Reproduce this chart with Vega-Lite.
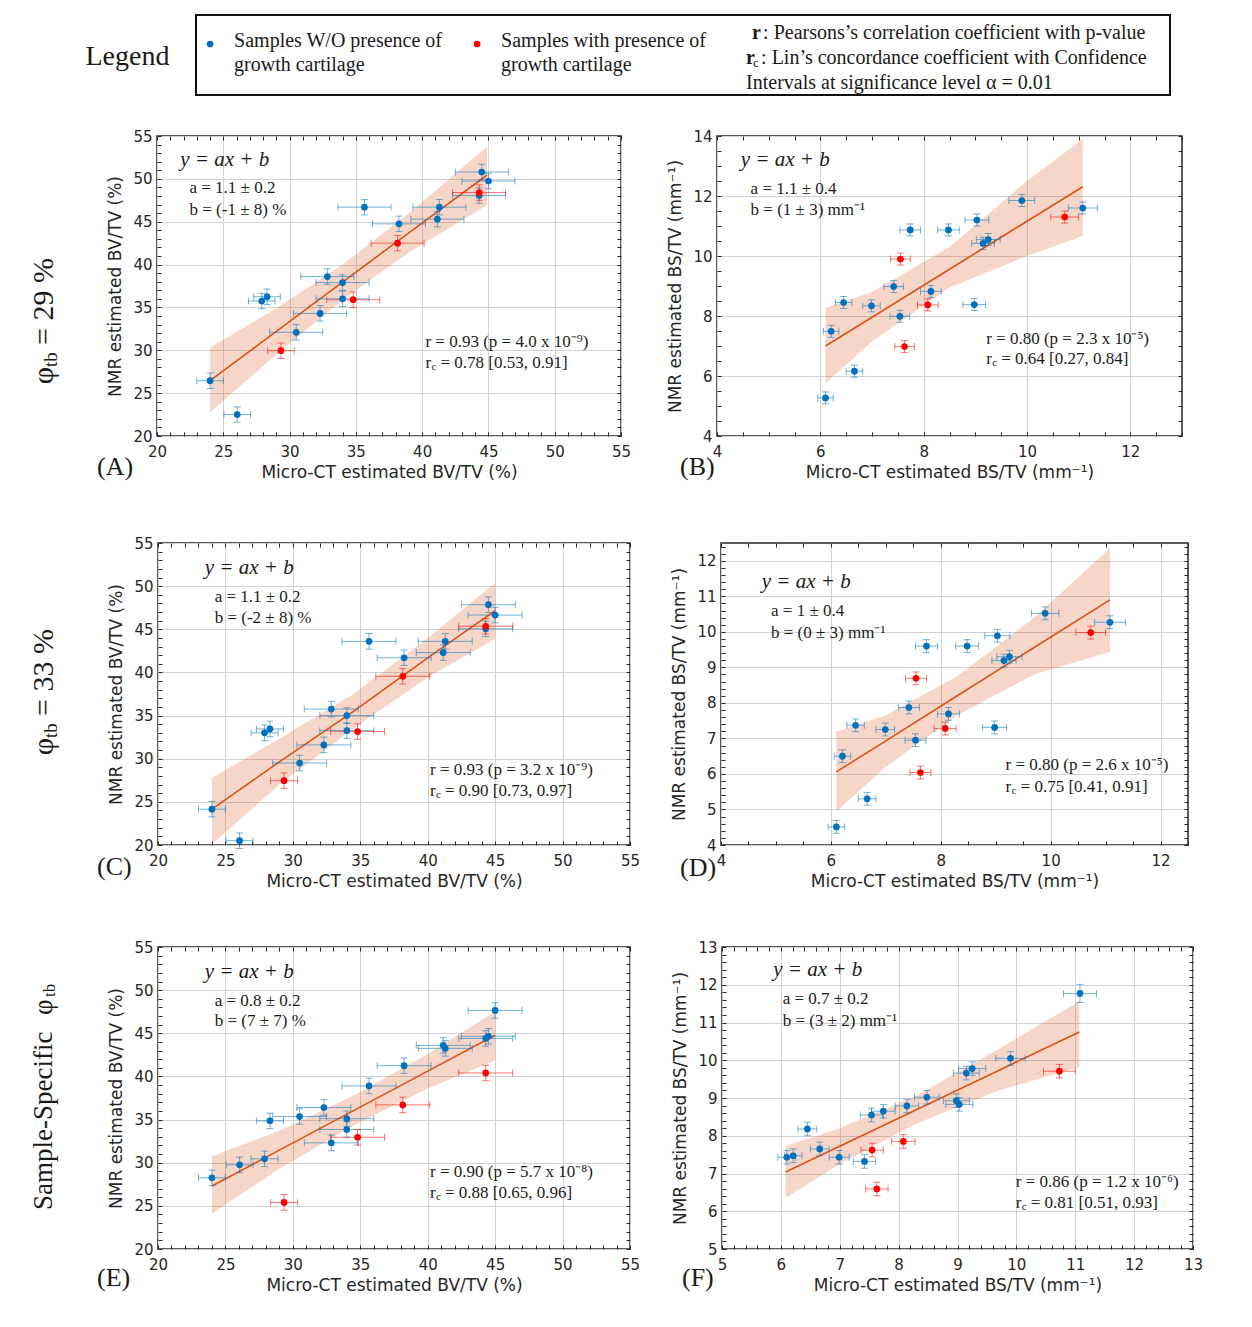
{
  "$schema": "https://vega.github.io/schema/vega-lite/v6.json",
  "padding": {"left": 15, "top": 14, "right": 5, "bottom": 5},
  "background": "white",
  "bounds": "full",
  "spacing": 19,
  "config": {
    "view": {"stroke": "#262626", "strokeWidth": 1.5},
    "axis": {"labelFont": "DejaVu Sans", "labelFontSize": 15, "labelColor": "#262626", "titleFont": "DejaVu Sans", "titleFontSize": 17, "titleFontWeight": "normal", "titleColor": "#262626", "tickColor": "#262626", "tickSize": -4, "domain": false, "gridColor": "#d2d2d2", "gridWidth": 1, "labelFlush": false, "labelOverlap": false, "labelBound": false},
    "axisX": {"labelPadding": 12, "titlePadding": 5},
    "axisY": {"labelPadding": 9, "titlePadding": 8},
    "text": {"font": "Liberation Serif", "fontSize": 17, "color": "#1a1a1a", "align": "left", "baseline": "middle"},
    "circle": {"size": 45, "opacity": 1},
    "title": {"font": "Liberation Serif", "fontSize": 26, "fontWeight": "normal", "color": "#1a1a1a"}
  },
  "datasets": {
    "ptsA": [
      {"x":44.5,"y":50.8,"xe":2,"ye":0.9,"g":"without"},
      {"x":45.0,"y":49.75,"xe":2,"ye":0.9,"g":"without"},
      {"x":44.3,"y":48.05,"xe":2,"ye":0.9,"g":"without"},
      {"x":35.65,"y":46.7,"xe":2,"ye":0.9,"g":"without"},
      {"x":41.3,"y":46.7,"xe":2,"ye":0.9,"g":"without"},
      {"x":41.15,"y":45.3,"xe":2,"ye":0.9,"g":"without"},
      {"x":38.25,"y":44.75,"xe":2,"ye":0.9,"g":"without"},
      {"x":32.85,"y":38.6,"xe":2,"ye":0.9,"g":"without"},
      {"x":34.0,"y":37.9,"xe":2,"ye":0.9,"g":"without"},
      {"x":28.3,"y":36.25,"xe":1,"ye":0.9,"g":"without"},
      {"x":27.9,"y":35.75,"xe":1,"ye":0.9,"g":"without"},
      {"x":34.0,"y":36.0,"xe":2,"ye":0.9,"g":"without"},
      {"x":32.3,"y":34.3,"xe":2,"ye":0.9,"g":"without"},
      {"x":30.5,"y":32.1,"xe":2,"ye":0.9,"g":"without"},
      {"x":24.0,"y":26.45,"xe":1,"ye":0.9,"g":"without"},
      {"x":26.05,"y":22.5,"xe":1,"ye":0.9,"g":"without"},
      {"x":44.3,"y":48.4,"xe":2,"ye":0.9,"g":"with"},
      {"x":38.15,"y":42.5,"xe":2,"ye":0.9,"g":"with"},
      {"x":34.8,"y":35.9,"xe":2,"ye":0.9,"g":"with"},
      {"x":29.35,"y":29.95,"xe":1,"ye":0.9,"g":"with"}
    ],
    "ptsC": [
      {"x":44.5,"y":47.85,"xe":2,"ye":0.9,"g":"without"},
      {"x":45.0,"y":46.65,"xe":2,"ye":0.9,"g":"without"},
      {"x":44.3,"y":45.05,"xe":2,"ye":0.9,"g":"without"},
      {"x":35.65,"y":43.6,"xe":2,"ye":0.9,"g":"without"},
      {"x":41.3,"y":43.6,"xe":2,"ye":0.9,"g":"without"},
      {"x":41.15,"y":42.3,"xe":2,"ye":0.9,"g":"without"},
      {"x":38.25,"y":41.7,"xe":2,"ye":0.9,"g":"without"},
      {"x":32.85,"y":35.75,"xe":2,"ye":0.9,"g":"without"},
      {"x":34.0,"y":35.0,"xe":2,"ye":0.9,"g":"without"},
      {"x":28.3,"y":33.45,"xe":1,"ye":0.9,"g":"without"},
      {"x":27.9,"y":33.0,"xe":1,"ye":0.9,"g":"without"},
      {"x":34.0,"y":33.25,"xe":2,"ye":0.9,"g":"without"},
      {"x":32.3,"y":31.6,"xe":2,"ye":0.9,"g":"without"},
      {"x":30.5,"y":29.5,"xe":2,"ye":0.9,"g":"without"},
      {"x":24.0,"y":24.15,"xe":1,"ye":0.9,"g":"without"},
      {"x":26.05,"y":20.5,"xe":1,"ye":0.9,"g":"without"},
      {"x":44.3,"y":45.35,"xe":2,"ye":0.9,"g":"with"},
      {"x":38.15,"y":39.55,"xe":2,"ye":0.9,"g":"with"},
      {"x":34.8,"y":33.15,"xe":2,"ye":0.9,"g":"with"},
      {"x":29.35,"y":27.45,"xe":1,"ye":0.9,"g":"with"}
    ],
    "ptsE": [
      {"x":44.5,"y":44.65,"xe":2,"ye":0.9,"g":"without"},
      {"x":45.0,"y":47.65,"xe":2,"ye":0.9,"g":"without"},
      {"x":44.3,"y":44.4,"xe":2,"ye":0.9,"g":"without"},
      {"x":35.65,"y":38.9,"xe":2,"ye":0.9,"g":"without"},
      {"x":41.3,"y":43.25,"xe":2,"ye":0.9,"g":"without"},
      {"x":41.15,"y":43.6,"xe":2,"ye":0.9,"g":"without"},
      {"x":38.25,"y":41.25,"xe":2,"ye":0.9,"g":"without"},
      {"x":32.85,"y":32.3,"xe":2,"ye":0.9,"g":"without"},
      {"x":34.0,"y":35.1,"xe":2,"ye":0.9,"g":"without"},
      {"x":28.3,"y":34.85,"xe":1,"ye":0.9,"g":"without"},
      {"x":27.9,"y":30.45,"xe":1,"ye":0.9,"g":"without"},
      {"x":34.0,"y":33.85,"xe":2,"ye":0.9,"g":"without"},
      {"x":32.3,"y":36.4,"xe":2,"ye":0.9,"g":"without"},
      {"x":30.5,"y":35.35,"xe":2,"ye":0.9,"g":"without"},
      {"x":24.0,"y":28.25,"xe":1,"ye":0.9,"g":"without"},
      {"x":26.05,"y":29.75,"xe":1,"ye":0.9,"g":"without"},
      {"x":44.3,"y":40.4,"xe":2,"ye":0.9,"g":"with"},
      {"x":38.15,"y":36.7,"xe":2,"ye":0.9,"g":"with"},
      {"x":34.8,"y":32.95,"xe":2,"ye":0.9,"g":"with"},
      {"x":29.35,"y":25.4,"xe":1,"ye":0.9,"g":"with"}
    ],
    "ptsB": [
      {"x":9.9,"y":11.85,"xe":0.25,"ye":0.2,"g":"without"},
      {"x":11.08,"y":11.6,"xe":0.28,"ye":0.2,"g":"without"},
      {"x":9.03,"y":11.2,"xe":0.23,"ye":0.2,"g":"without"},
      {"x":7.74,"y":10.87,"xe":0.2,"ye":0.2,"g":"without"},
      {"x":8.48,"y":10.87,"xe":0.21,"ye":0.2,"g":"without"},
      {"x":9.25,"y":10.55,"xe":0.23,"ye":0.2,"g":"without"},
      {"x":9.15,"y":10.42,"xe":0.22,"ye":0.2,"g":"without"},
      {"x":7.42,"y":8.98,"xe":0.19,"ye":0.2,"g":"without"},
      {"x":8.14,"y":8.82,"xe":0.2,"ye":0.2,"g":"without"},
      {"x":6.45,"y":8.45,"xe":0.16,"ye":0.2,"g":"without"},
      {"x":6.99,"y":8.34,"xe":0.17,"ye":0.2,"g":"without"},
      {"x":8.98,"y":8.38,"xe":0.22,"ye":0.2,"g":"without"},
      {"x":7.54,"y":7.99,"xe":0.19,"ye":0.2,"g":"without"},
      {"x":6.21,"y":7.49,"xe":0.15,"ye":0.2,"g":"without"},
      {"x":6.66,"y":6.16,"xe":0.16,"ye":0.2,"g":"without"},
      {"x":6.1,"y":5.27,"xe":0.15,"ye":0.2,"g":"without"},
      {"x":10.73,"y":11.3,"xe":0.27,"ye":0.2,"g":"with"},
      {"x":7.55,"y":9.9,"xe":0.19,"ye":0.2,"g":"with"},
      {"x":8.08,"y":8.37,"xe":0.2,"ye":0.2,"g":"with"},
      {"x":7.63,"y":6.98,"xe":0.19,"ye":0.2,"g":"with"}
    ],
    "ptsD": [
      {"x":9.9,"y":10.52,"xe":0.25,"ye":0.18,"g":"without"},
      {"x":11.08,"y":10.27,"xe":0.28,"ye":0.18,"g":"without"},
      {"x":9.03,"y":9.89,"xe":0.23,"ye":0.18,"g":"without"},
      {"x":7.74,"y":9.6,"xe":0.2,"ye":0.18,"g":"without"},
      {"x":8.48,"y":9.6,"xe":0.21,"ye":0.18,"g":"without"},
      {"x":9.25,"y":9.3,"xe":0.23,"ye":0.18,"g":"without"},
      {"x":9.15,"y":9.19,"xe":0.22,"ye":0.18,"g":"without"},
      {"x":7.42,"y":7.87,"xe":0.19,"ye":0.18,"g":"without"},
      {"x":8.14,"y":7.69,"xe":0.2,"ye":0.18,"g":"without"},
      {"x":6.45,"y":7.37,"xe":0.16,"ye":0.18,"g":"without"},
      {"x":6.99,"y":7.25,"xe":0.17,"ye":0.18,"g":"without"},
      {"x":8.98,"y":7.31,"xe":0.22,"ye":0.18,"g":"without"},
      {"x":7.54,"y":6.95,"xe":0.19,"ye":0.18,"g":"without"},
      {"x":6.21,"y":6.5,"xe":0.15,"ye":0.18,"g":"without"},
      {"x":6.66,"y":5.3,"xe":0.16,"ye":0.18,"g":"without"},
      {"x":6.1,"y":4.51,"xe":0.15,"ye":0.18,"g":"without"},
      {"x":10.73,"y":9.98,"xe":0.27,"ye":0.18,"g":"with"},
      {"x":7.55,"y":8.69,"xe":0.19,"ye":0.18,"g":"with"},
      {"x":8.08,"y":7.28,"xe":0.2,"ye":0.18,"g":"with"},
      {"x":7.63,"y":6.04,"xe":0.19,"ye":0.18,"g":"with"}
    ],
    "ptsF": [
      {"x":9.9,"y":10.05,"xe":0.25,"ye":0.18,"g":"without"},
      {"x":11.08,"y":11.77,"xe":0.28,"ye":0.24,"g":"without"},
      {"x":9.03,"y":8.83,"xe":0.23,"ye":0.18,"g":"without"},
      {"x":7.74,"y":8.65,"xe":0.2,"ye":0.18,"g":"without"},
      {"x":8.48,"y":9.02,"xe":0.21,"ye":0.18,"g":"without"},
      {"x":9.25,"y":9.78,"xe":0.23,"ye":0.18,"g":"without"},
      {"x":9.15,"y":9.66,"xe":0.22,"ye":0.18,"g":"without"},
      {"x":7.42,"y":7.32,"xe":0.19,"ye":0.18,"g":"without"},
      {"x":8.14,"y":8.79,"xe":0.2,"ye":0.18,"g":"without"},
      {"x":6.45,"y":8.18,"xe":0.16,"ye":0.18,"g":"without"},
      {"x":6.99,"y":7.43,"xe":0.17,"ye":0.18,"g":"without"},
      {"x":8.98,"y":8.93,"xe":0.22,"ye":0.18,"g":"without"},
      {"x":7.54,"y":8.55,"xe":0.19,"ye":0.18,"g":"without"},
      {"x":6.21,"y":7.47,"xe":0.15,"ye":0.18,"g":"without"},
      {"x":6.66,"y":7.65,"xe":0.16,"ye":0.18,"g":"without"},
      {"x":6.1,"y":7.43,"xe":0.15,"ye":0.18,"g":"without"},
      {"x":10.73,"y":9.71,"xe":0.27,"ye":0.18,"g":"with"},
      {"x":7.55,"y":7.62,"xe":0.19,"ye":0.18,"g":"with"},
      {"x":8.08,"y":7.85,"xe":0.2,"ye":0.18,"g":"with"},
      {"x":7.63,"y":6.59,"xe":0.19,"ye":0.18,"g":"with"}
    ],
    "bandA": [
      {"x":24,"lo":22.75,"hi":30.3,"fit":26.45},
      {"x":29,"lo":29.5,"hi":34.9,"fit":32.2},
      {"x":34,"lo":35.9,"hi":40.0,"fit":37.95},
      {"x":39,"lo":41.4,"hi":46.0,"fit":43.7},
      {"x":44.9,"lo":46.95,"hi":53.75,"fit":50.45}
    ],
    "bandB": [
      {"x":6.1,"lo":5.76,"hi":8.27,"fit":7.0},
      {"x":7.0,"lo":7.15,"hi":8.8,"fit":7.96},
      {"x":8.5,"lo":8.95,"hi":10.3,"fit":9.56},
      {"x":10.0,"lo":10.0,"hi":12.5,"fit":11.16},
      {"x":11.08,"lo":10.67,"hi":13.9,"fit":12.31}
    ],
    "bandC": [
      {"x":24,"lo":20.1,"hi":27.8,"fit":24.16},
      {"x":29,"lo":27.0,"hi":32.3,"fit":29.64},
      {"x":34.5,"lo":33.5,"hi":37.5,"fit":35.48},
      {"x":40,"lo":39.4,"hi":44.0,"fit":41.68},
      {"x":45,"lo":43.9,"hi":50.4,"fit":47.16}
    ],
    "bandD": [
      {"x":6.1,"lo":4.94,"hi":7.19,"fit":6.06},
      {"x":7.0,"lo":6.2,"hi":7.65,"fit":6.93},
      {"x":8.3,"lo":7.65,"hi":8.75,"fit":8.2},
      {"x":9.7,"lo":8.8,"hi":10.4,"fit":9.56},
      {"x":11.08,"lo":9.44,"hi":12.35,"fit":10.9}
    ],
    "bandE": [
      {"x":24,"lo":24.08,"hi":30.75,"fit":27.3},
      {"x":29,"lo":29.3,"hi":33.7,"fit":31.46},
      {"x":34.5,"lo":34.3,"hi":37.8,"fit":36.04},
      {"x":40,"lo":38.6,"hi":42.6,"fit":40.61},
      {"x":45,"lo":41.86,"hi":47.53,"fit":44.77}
    ],
    "bandF": [
      {"x":6.08,"lo":6.35,"hi":7.73,"fit":7.04},
      {"x":7.0,"lo":7.25,"hi":8.2,"fit":7.72},
      {"x":8.3,"lo":8.32,"hi":9.06,"fit":8.69},
      {"x":9.7,"lo":9.2,"hi":10.3,"fit":9.73},
      {"x":11.07,"lo":9.82,"hi":11.56,"fit":10.75}
    ],
    "legendItems": [
      {"g":"without","label":"Samples W/O presence of\ngrowth cartilage"},
      {"g":"with","label":"Samples with presence of\ngrowth cartilage"}
    ]
  },
  "vconcat": [
    {
      "bounds": "flush",
      "spacing": 0,
      "hconcat": [
        {
          "width": 181, "height": 94, "view": {"stroke": null},
          "data": {"values": [{}]},
          "mark": {"type": "text", "fontSize": 28, "align": "center", "dx": 22, "dy": -5},
          "encoding": {"text": {"value": "Legend"}}
        },
        {
          "width": 974, "height": 80,
          "view": {"stroke": "#111", "strokeWidth": 2},
          "data": {"name": "legendItems"},
          "layer": [
            {
              "mark": {"type": "circle", "yOffset": -11},
              "encoding": {
                "x": {"field": "g", "type": "nominal", "scale": {"type": "point", "domain": ["without", "with", "stats"], "padding": 0.824, "align": 0.032}, "axis": null},
                "color": {"field": "g", "type": "nominal", "scale": {"domain": ["without", "with"], "range": ["#0072BD", "#FF0000"]}, "legend": null}
              }
            },
            {
              "mark": {"type": "text", "fontSize": 20, "dx": 24, "dy": -14, "lineBreak": "\n", "lineHeight": 24},
              "encoding": {"x": {"field": "g", "type": "nominal", "axis": null}, "text": {"field": "label"}}
            },
            {"data": {"values": [{"g": "stats"}]}, "mark": {"type": "text", "fontSize": 20, "fontWeight": "bold", "dx": 8, "dy": -22}, "encoding": {"x": {"field": "g", "type": "nominal", "axis": null}, "text": {"value": "r"}}},
            {"data": {"values": [{"g": "stats"}]}, "mark": {"type": "text", "fontSize": 20, "dx": 19, "dy": -22}, "encoding": {"x": {"field": "g", "type": "nominal", "axis": null}, "text": {"value": ": Pearsons’s correlation coefficient with p-value"}}},
            {"data": {"values": [{"g": "stats"}]}, "mark": {"type": "text", "fontSize": 20, "fontWeight": "bold", "dx": 2, "dy": 3}, "encoding": {"x": {"field": "g", "type": "nominal", "axis": null}, "text": {"value": "r"}}},
            {"data": {"values": [{"g": "stats"}]}, "mark": {"type": "text", "fontSize": 13, "dx": 9, "dy": 8}, "encoding": {"x": {"field": "g", "type": "nominal", "axis": null}, "text": {"value": "c"}}},
            {"data": {"values": [{"g": "stats"}]}, "mark": {"type": "text", "fontSize": 20, "dx": 17, "dy": 3}, "encoding": {"x": {"field": "g", "type": "nominal", "axis": null}, "text": {"value": ": Lin’s concordance coefficient with Confidence"}}},
            {"data": {"values": [{"g": "stats"}]}, "mark": {"type": "text", "fontSize": 20, "dx": 2, "dy": 28}, "encoding": {"x": {"field": "g", "type": "nominal", "axis": null}, "text": {"value": "Intervals at significance level α = 0.01"}}}
          ]
        }
      ]
    },
    {
      "bounds": "flush",
      "spacing": 96,
      "hconcat": [
        {
          "width": 46, "height": 380, "view": {"stroke": null},
          "data": {"values": [{}]},
          "layer": [
            {"mark": {"type": "text", "angle": 270, "fontSize": 30, "align": "right", "dx": -41, "dy": 6}, "encoding": {"text": {"value": "φ"}}},
            {"mark": {"type": "text", "angle": 270, "fontSize": 19, "align": "left", "dx": -41, "dy": 13}, "encoding": {"text": {"value": "tb"}}},
            {"mark": {"type": "text", "angle": 270, "fontSize": 30, "align": "left", "dx": -19, "dy": 6}, "encoding": {"text": {"value": "= 29 %"}}}
          ]
        },
        {
          "width": 464, "height": 300,
          "title": {"text": "(A)", "orient": "bottom", "anchor": "start", "frame": "group", "dx": -60, "dy": -30},
          "resolve": {"axis": {"x": "independent", "y": "independent"}},
          "layer": [
            {
              "layer": [
                {
                  "data": {"name": "bandA"},
                  "mark": {"type": "area", "color": "#D95319", "opacity": 0.24, "clip": true},
                  "encoding": {
                    "x": {"field": "x", "type": "quantitative", "title": "Micro-CT estimated BV/TV (%)", "scale": {"domain": [20, 55], "nice": false, "zero": false},
                      "axis": {"values": [20,21,22,23,24,25,26,27,28,29,30,31,32,33,34,35,36,37,38,39,40,41,42,43,44,45,46,47,48,49,50,51,52,53,54,55], "tickCount": 200, "labelOverlap": false, "labelExpr": "datum.value % 5 === 0 ? '' + datum.value : ''", "gridOpacity": {"condition": {"test": "datum.value % 5 === 0", "value": 1}, "value": 0}}},
                    "y": {"field": "lo", "type": "quantitative", "title": "NMR estimated BV/TV (%)", "scale": {"domain": [20, 55], "nice": false, "zero": false},
                      "axis": {"values": [20,21,22,23,24,25,26,27,28,29,30,31,32,33,34,35,36,37,38,39,40,41,42,43,44,45,46,47,48,49,50,51,52,53,54,55], "tickCount": 200, "labelOverlap": false, "labelExpr": "datum.value % 5 === 0 ? '' + datum.value : ''", "gridOpacity": {"condition": {"test": "datum.value % 5 === 0", "value": 1}, "value": 0}}},
                    "y2": {"field": "hi"}
                  }
                },
                {"data": {"name": "bandA"}, "mark": {"type": "line", "color": "#D95319", "strokeWidth": 1.6}, "encoding": {"x": {"field": "x", "type": "quantitative", "title": "Micro-CT estimated BV/TV (%)"}, "y": {"field": "fit", "type": "quantitative", "title": "NMR estimated BV/TV (%)"}}},
                {"data": {"name": "ptsA"}, "mark": {"type": "errorbar", "ticks": true, "size": 7, "thickness": 1, "opacity": 0.55}, "encoding": {"x": {"field": "x", "type": "quantitative", "title": "Micro-CT estimated BV/TV (%)"}, "xError": {"field": "xe"}, "y": {"field": "y", "type": "quantitative", "title": "NMR estimated BV/TV (%)"}, "color": {"field": "g", "type": "nominal", "legend": null}}},
                {"data": {"name": "ptsA"}, "mark": {"type": "errorbar", "ticks": true, "size": 7, "thickness": 1, "opacity": 0.55}, "encoding": {"x": {"field": "x", "type": "quantitative", "title": "Micro-CT estimated BV/TV (%)"}, "y": {"field": "y", "type": "quantitative", "title": "NMR estimated BV/TV (%)"}, "yError": {"field": "ye"}, "color": {"field": "g", "type": "nominal", "legend": null}}},
                {"data": {"name": "ptsA"}, "mark": {"type": "circle"}, "encoding": {"x": {"field": "x", "type": "quantitative", "title": "Micro-CT estimated BV/TV (%)"}, "y": {"field": "y", "type": "quantitative", "title": "NMR estimated BV/TV (%)"}, "color": {"field": "g", "type": "nominal", "legend": null}}},
                {"data": {"values": [{}]}, "mark": {"type": "text", "fontStyle": "italic", "fontSize": 21}, "encoding": {"x": {"datum": 21.75, "type": "quantitative"}, "y": {"datum": 52.2, "type": "quantitative"}, "text": {"value": "y = ax + b"}}},
                {"data": {"values": [{}]}, "mark": {"type": "text"}, "encoding": {"x": {"datum": 22.45, "type": "quantitative"}, "y": {"datum": 48.9, "type": "quantitative"}, "text": {"value": "a = 1.1 ± 0.2"}}},
                {"data": {"values": [{}]}, "mark": {"type": "text"}, "encoding": {"x": {"datum": 22.45, "type": "quantitative"}, "y": {"datum": 46.37, "type": "quantitative"}, "text": {"value": "b = (-1 ± 8) %"}}},
                {"data": {"values": [{}]}, "mark": {"type": "text"}, "encoding": {"x": {"datum": 40.25, "type": "quantitative"}, "y": {"datum": 30.92, "type": "quantitative"}, "text": {"value": "r = 0.93 (p = 4.0 x 10⁻⁹)"}}},
                {"data": {"values": [{}]}, "mark": {"type": "text"}, "encoding": {"x": {"datum": 40.25, "type": "quantitative"}, "y": {"datum": 28.47, "type": "quantitative"}, "text": {"value": "r"}}},
                {"data": {"values": [{}]}, "mark": {"type": "text", "fontSize": 11, "dx": 6, "dy": 4}, "encoding": {"x": {"datum": 40.25, "type": "quantitative"}, "y": {"datum": 28.47, "type": "quantitative"}, "text": {"value": "c"}}},
                {"data": {"values": [{}]}, "mark": {"type": "text", "dx": 15}, "encoding": {"x": {"datum": 40.25, "type": "quantitative"}, "y": {"datum": 28.47, "type": "quantitative"}, "text": {"value": "= 0.78 [0.53, 0.91]"}}}
              ]
            },
            {
              "data": {"name": "ptsA"},
              "mark": {"type": "point", "opacity": 0},
              "encoding": {
                "x": {"field": "x", "type": "quantitative", "axis": {"orient": "top", "values": [20,21,22,23,24,25,26,27,28,29,30,31,32,33,34,35,36,37,38,39,40,41,42,43,44,45,46,47,48,49,50,51,52,53,54,55], "tickCount": 200, "labels": false, "grid": false, "title": null}},
                "y": {"field": "y", "type": "quantitative", "axis": {"orient": "right", "values": [20,21,22,23,24,25,26,27,28,29,30,31,32,33,34,35,36,37,38,39,40,41,42,43,44,45,46,47,48,49,50,51,52,53,54,55], "tickCount": 200, "labels": false, "grid": false, "title": null}}
              }
            }
          ]
        },
        {
          "width": 465, "height": 300,
          "title": {"text": "(B)", "orient": "bottom", "anchor": "start", "frame": "group", "dx": -37, "dy": -30},
          "resolve": {"axis": {"x": "independent", "y": "independent"}},
          "layer": [
            {
              "layer": [
                {
                  "data": {"name": "bandB"},
                  "mark": {"type": "area", "color": "#D95319", "opacity": 0.24, "clip": true},
                  "encoding": {
                    "x": {"field": "x", "type": "quantitative", "title": "Micro-CT estimated BS/TV (mm⁻¹)", "scale": {"domain": [4, 13], "nice": false, "zero": false},
                      "axis": {"values": [4,4.5,5,5.5,6,6.5,7,7.5,8,8.5,9,9.5,10,10.5,11,11.5,12,12.5,13], "tickCount": 200, "labelOverlap": false, "labelExpr": "datum.value % 2 === 0 ? '' + datum.value : ''", "gridOpacity": {"condition": {"test": "datum.value % 2 === 0", "value": 1}, "value": 0}}},
                    "y": {"field": "lo", "type": "quantitative", "title": "NMR estimated BS/TV (mm⁻¹)", "scale": {"domain": [4, 14], "nice": false, "zero": false},
                      "axis": {"values": [4,4.5,5,5.5,6,6.5,7,7.5,8,8.5,9,9.5,10,10.5,11,11.5,12,12.5,13,13.5,14], "tickCount": 200, "labelOverlap": false, "labelExpr": "datum.value % 2 === 0 ? '' + datum.value : ''", "gridOpacity": {"condition": {"test": "datum.value % 2 === 0", "value": 1}, "value": 0}}},
                    "y2": {"field": "hi"}
                  }
                },
                {"data": {"name": "bandB"}, "mark": {"type": "line", "color": "#D95319", "strokeWidth": 1.6}, "encoding": {"x": {"field": "x", "type": "quantitative", "title": "Micro-CT estimated BS/TV (mm⁻¹)"}, "y": {"field": "fit", "type": "quantitative", "title": "NMR estimated BS/TV (mm⁻¹)"}}},
                {"data": {"name": "ptsB"}, "mark": {"type": "errorbar", "ticks": true, "size": 7, "thickness": 1, "opacity": 0.55}, "encoding": {"x": {"field": "x", "type": "quantitative", "title": "Micro-CT estimated BS/TV (mm⁻¹)"}, "xError": {"field": "xe"}, "y": {"field": "y", "type": "quantitative", "title": "NMR estimated BS/TV (mm⁻¹)"}, "color": {"field": "g", "type": "nominal", "legend": null}}},
                {"data": {"name": "ptsB"}, "mark": {"type": "errorbar", "ticks": true, "size": 7, "thickness": 1, "opacity": 0.55}, "encoding": {"x": {"field": "x", "type": "quantitative", "title": "Micro-CT estimated BS/TV (mm⁻¹)"}, "y": {"field": "y", "type": "quantitative", "title": "NMR estimated BS/TV (mm⁻¹)"}, "yError": {"field": "ye"}, "color": {"field": "g", "type": "nominal", "legend": null}}},
                {"data": {"name": "ptsB"}, "mark": {"type": "circle"}, "encoding": {"x": {"field": "x", "type": "quantitative", "title": "Micro-CT estimated BS/TV (mm⁻¹)"}, "y": {"field": "y", "type": "quantitative", "title": "NMR estimated BS/TV (mm⁻¹)"}, "color": {"field": "g", "type": "nominal", "legend": null}}},
                {"data": {"values": [{}]}, "mark": {"type": "text", "fontStyle": "italic", "fontSize": 21}, "encoding": {"x": {"datum": 4.46, "type": "quantitative"}, "y": {"datum": 13.19, "type": "quantitative"}, "text": {"value": "y = ax + b"}}},
                {"data": {"values": [{}]}, "mark": {"type": "text"}, "encoding": {"x": {"datum": 4.65, "type": "quantitative"}, "y": {"datum": 12.23, "type": "quantitative"}, "text": {"value": "a = 1.1 ± 0.4"}}},
                {"data": {"values": [{}]}, "mark": {"type": "text"}, "encoding": {"x": {"datum": 4.65, "type": "quantitative"}, "y": {"datum": 11.53, "type": "quantitative"}, "text": {"value": "b = (1 ± 3) mm⁻¹"}}},
                {"data": {"values": [{}]}, "mark": {"type": "text"}, "encoding": {"x": {"datum": 9.21, "type": "quantitative"}, "y": {"datum": 7.25, "type": "quantitative"}, "text": {"value": "r = 0.80 (p = 2.3 x 10⁻⁵)"}}},
                {"data": {"values": [{}]}, "mark": {"type": "text"}, "encoding": {"x": {"datum": 9.21, "type": "quantitative"}, "y": {"datum": 6.58, "type": "quantitative"}, "text": {"value": "r"}}},
                {"data": {"values": [{}]}, "mark": {"type": "text", "fontSize": 11, "dx": 6, "dy": 4}, "encoding": {"x": {"datum": 9.21, "type": "quantitative"}, "y": {"datum": 6.58, "type": "quantitative"}, "text": {"value": "c"}}},
                {"data": {"values": [{}]}, "mark": {"type": "text", "dx": 15}, "encoding": {"x": {"datum": 9.21, "type": "quantitative"}, "y": {"datum": 6.58, "type": "quantitative"}, "text": {"value": "= 0.64 [0.27, 0.84]"}}}
              ]
            },
            {
              "data": {"name": "ptsB"},
              "mark": {"type": "point", "opacity": 0},
              "encoding": {
                "x": {"field": "x", "type": "quantitative", "axis": {"orient": "top", "values": [4,4.5,5,5.5,6,6.5,7,7.5,8,8.5,9,9.5,10,10.5,11,11.5,12,12.5,13], "tickCount": 200, "labels": false, "grid": false, "title": null}},
                "y": {"field": "y", "type": "quantitative", "axis": {"orient": "right", "values": [4,4.5,5,5.5,6,6.5,7,7.5,8,8.5,9,9.5,10,10.5,11,11.5,12,12.5,13,13.5,14], "tickCount": 200, "labels": false, "grid": false, "title": null}}
              }
            }
          ]
        }
      ]
    },
    {
      "bounds": "flush",
      "spacing": 91,
      "hconcat": [
        {
          "width": 52, "height": 377, "view": {"stroke": null},
          "data": {"values": [{}]},
          "layer": [
            {"mark": {"type": "text", "angle": 270, "fontSize": 30, "align": "right", "dx": -6.5, "dy": 3}, "encoding": {"text": {"value": "φ"}}},
            {"mark": {"type": "text", "angle": 270, "fontSize": 19, "align": "left", "dx": -6.5, "dy": 10}, "encoding": {"text": {"value": "tb"}}},
            {"mark": {"type": "text", "angle": 270, "fontSize": 30, "align": "left", "dx": 15.5, "dy": 3}, "encoding": {"text": {"value": "= 33 %"}}}
          ]
        },
        {
          "width": 472, "height": 302,
          "title": {"text": "(C)", "orient": "bottom", "anchor": "start", "frame": "group", "dx": -61, "dy": -39},
          "resolve": {"axis": {"x": "independent", "y": "independent"}},
          "layer": [
            {
              "layer": [
                {
                  "data": {"name": "bandC"},
                  "mark": {"type": "area", "color": "#D95319", "opacity": 0.24, "clip": true},
                  "encoding": {
                    "x": {"field": "x", "type": "quantitative", "title": "Micro-CT estimated BV/TV (%)", "scale": {"domain": [20, 55], "nice": false, "zero": false},
                      "axis": {"values": [20,21,22,23,24,25,26,27,28,29,30,31,32,33,34,35,36,37,38,39,40,41,42,43,44,45,46,47,48,49,50,51,52,53,54,55], "tickCount": 200, "labelOverlap": false, "labelExpr": "datum.value % 5 === 0 ? '' + datum.value : ''", "gridOpacity": {"condition": {"test": "datum.value % 5 === 0", "value": 1}, "value": 0}}},
                    "y": {"field": "lo", "type": "quantitative", "title": "NMR estimated BV/TV (%)", "scale": {"domain": [20, 55], "nice": false, "zero": false},
                      "axis": {"values": [20,21,22,23,24,25,26,27,28,29,30,31,32,33,34,35,36,37,38,39,40,41,42,43,44,45,46,47,48,49,50,51,52,53,54,55], "tickCount": 200, "labelOverlap": false, "labelExpr": "datum.value % 5 === 0 ? '' + datum.value : ''", "gridOpacity": {"condition": {"test": "datum.value % 5 === 0", "value": 1}, "value": 0}}},
                    "y2": {"field": "hi"}
                  }
                },
                {"data": {"name": "bandC"}, "mark": {"type": "line", "color": "#D95319", "strokeWidth": 1.6}, "encoding": {"x": {"field": "x", "type": "quantitative", "title": "Micro-CT estimated BV/TV (%)"}, "y": {"field": "fit", "type": "quantitative", "title": "NMR estimated BV/TV (%)"}}},
                {"data": {"name": "ptsC"}, "mark": {"type": "errorbar", "ticks": true, "size": 7, "thickness": 1, "opacity": 0.55}, "encoding": {"x": {"field": "x", "type": "quantitative", "title": "Micro-CT estimated BV/TV (%)"}, "xError": {"field": "xe"}, "y": {"field": "y", "type": "quantitative", "title": "NMR estimated BV/TV (%)"}, "color": {"field": "g", "type": "nominal", "legend": null}}},
                {"data": {"name": "ptsC"}, "mark": {"type": "errorbar", "ticks": true, "size": 7, "thickness": 1, "opacity": 0.55}, "encoding": {"x": {"field": "x", "type": "quantitative", "title": "Micro-CT estimated BV/TV (%)"}, "y": {"field": "y", "type": "quantitative", "title": "NMR estimated BV/TV (%)"}, "yError": {"field": "ye"}, "color": {"field": "g", "type": "nominal", "legend": null}}},
                {"data": {"name": "ptsC"}, "mark": {"type": "circle"}, "encoding": {"x": {"field": "x", "type": "quantitative", "title": "Micro-CT estimated BV/TV (%)"}, "y": {"field": "y", "type": "quantitative", "title": "NMR estimated BV/TV (%)"}, "color": {"field": "g", "type": "nominal", "legend": null}}},
                {"data": {"values": [{}]}, "mark": {"type": "text", "fontStyle": "italic", "fontSize": 21}, "encoding": {"x": {"datum": 23.47, "type": "quantitative"}, "y": {"datum": 52.13, "type": "quantitative"}, "text": {"value": "y = ax + b"}}},
                {"data": {"values": [{}]}, "mark": {"type": "text"}, "encoding": {"x": {"datum": 24.2, "type": "quantitative"}, "y": {"datum": 48.75, "type": "quantitative"}, "text": {"value": "a = 1.1 ± 0.2"}}},
                {"data": {"values": [{}]}, "mark": {"type": "text"}, "encoding": {"x": {"datum": 24.2, "type": "quantitative"}, "y": {"datum": 46.3, "type": "quantitative"}, "text": {"value": "b = (-2 ± 8) %"}}},
                {"data": {"values": [{}]}, "mark": {"type": "text"}, "encoding": {"x": {"datum": 40.17, "type": "quantitative"}, "y": {"datum": 28.68, "type": "quantitative"}, "text": {"value": "r = 0.93 (p = 3.2 x 10⁻⁹)"}}},
                {"data": {"values": [{}]}, "mark": {"type": "text"}, "encoding": {"x": {"datum": 40.17, "type": "quantitative"}, "y": {"datum": 26.26, "type": "quantitative"}, "text": {"value": "r"}}},
                {"data": {"values": [{}]}, "mark": {"type": "text", "fontSize": 11, "dx": 6, "dy": 4}, "encoding": {"x": {"datum": 40.17, "type": "quantitative"}, "y": {"datum": 26.26, "type": "quantitative"}, "text": {"value": "c"}}},
                {"data": {"values": [{}]}, "mark": {"type": "text", "dx": 15}, "encoding": {"x": {"datum": 40.17, "type": "quantitative"}, "y": {"datum": 26.26, "type": "quantitative"}, "text": {"value": "= 0.90 [0.73, 0.97]"}}}
              ]
            },
            {
              "data": {"name": "ptsC"},
              "mark": {"type": "point", "opacity": 0},
              "encoding": {
                "x": {"field": "x", "type": "quantitative", "axis": {"orient": "top", "values": [20,21,22,23,24,25,26,27,28,29,30,31,32,33,34,35,36,37,38,39,40,41,42,43,44,45,46,47,48,49,50,51,52,53,54,55], "tickCount": 200, "labels": false, "grid": false, "title": null}},
                "y": {"field": "y", "type": "quantitative", "axis": {"orient": "right", "values": [20,21,22,23,24,25,26,27,28,29,30,31,32,33,34,35,36,37,38,39,40,41,42,43,44,45,46,47,48,49,50,51,52,53,54,55], "tickCount": 200, "labels": false, "grid": false, "title": null}}
              }
            }
          ]
        },
        {
          "width": 467, "height": 302,
          "title": {"text": "(D)", "orient": "bottom", "anchor": "start", "frame": "group", "dx": -41, "dy": -38},
          "resolve": {"axis": {"x": "independent", "y": "independent"}},
          "layer": [
            {
              "layer": [
                {
                  "data": {"name": "bandD"},
                  "mark": {"type": "area", "color": "#D95319", "opacity": 0.24, "clip": true},
                  "encoding": {
                    "x": {"field": "x", "type": "quantitative", "title": "Micro-CT estimated BS/TV (mm⁻¹)", "scale": {"domain": [4, 12.5], "nice": false, "zero": false},
                      "axis": {"values": [4,4.5,5,5.5,6,6.5,7,7.5,8,8.5,9,9.5,10,10.5,11,11.5,12,12.5], "tickCount": 200, "labelOverlap": false, "labelExpr": "datum.value % 2 === 0 ? '' + datum.value : ''", "gridOpacity": {"condition": {"test": "datum.value % 2 === 0", "value": 1}, "value": 0}}},
                    "y": {"field": "lo", "type": "quantitative", "title": "NMR estimated BS/TV (mm⁻¹)", "scale": {"domain": [4, 12.5], "nice": false, "zero": false},
                      "axis": {"values": [4,4.2,4.4,4.6,4.8,5,5.2,5.4,5.6,5.8,6,6.2,6.4,6.6,6.8,7,7.2,7.4,7.6,7.8,8,8.2,8.4,8.6,8.8,9,9.2,9.4,9.6,9.8,10,10.2,10.4,10.6,10.8,11,11.2,11.4,11.6,11.8,12,12.2,12.4], "tickCount": 200, "labelOverlap": false, "labelExpr": "datum.value % 1 === 0 ? '' + datum.value : ''", "gridOpacity": {"condition": {"test": "datum.value % 1 === 0", "value": 1}, "value": 0}}},
                    "y2": {"field": "hi"}
                  }
                },
                {"data": {"name": "bandD"}, "mark": {"type": "line", "color": "#D95319", "strokeWidth": 1.6}, "encoding": {"x": {"field": "x", "type": "quantitative", "title": "Micro-CT estimated BS/TV (mm⁻¹)"}, "y": {"field": "fit", "type": "quantitative", "title": "NMR estimated BS/TV (mm⁻¹)"}}},
                {"data": {"name": "ptsD"}, "mark": {"type": "errorbar", "ticks": true, "size": 7, "thickness": 1, "opacity": 0.55}, "encoding": {"x": {"field": "x", "type": "quantitative", "title": "Micro-CT estimated BS/TV (mm⁻¹)"}, "xError": {"field": "xe"}, "y": {"field": "y", "type": "quantitative", "title": "NMR estimated BS/TV (mm⁻¹)"}, "color": {"field": "g", "type": "nominal", "legend": null}}},
                {"data": {"name": "ptsD"}, "mark": {"type": "errorbar", "ticks": true, "size": 7, "thickness": 1, "opacity": 0.55}, "encoding": {"x": {"field": "x", "type": "quantitative", "title": "Micro-CT estimated BS/TV (mm⁻¹)"}, "y": {"field": "y", "type": "quantitative", "title": "NMR estimated BS/TV (mm⁻¹)"}, "yError": {"field": "ye"}, "color": {"field": "g", "type": "nominal", "legend": null}}},
                {"data": {"name": "ptsD"}, "mark": {"type": "circle"}, "encoding": {"x": {"field": "x", "type": "quantitative", "title": "Micro-CT estimated BS/TV (mm⁻¹)"}, "y": {"field": "y", "type": "quantitative", "title": "NMR estimated BS/TV (mm⁻¹)"}, "color": {"field": "g", "type": "nominal", "legend": null}}},
                {"data": {"values": [{}]}, "mark": {"type": "text", "fontStyle": "italic", "fontSize": 21}, "encoding": {"x": {"datum": 4.74, "type": "quantitative"}, "y": {"datum": 11.4, "type": "quantitative"}, "text": {"value": "y = ax + b"}}},
                {"data": {"values": [{}]}, "mark": {"type": "text"}, "encoding": {"x": {"datum": 4.91, "type": "quantitative"}, "y": {"datum": 10.58, "type": "quantitative"}, "text": {"value": "a = 1 ± 0.4"}}},
                {"data": {"values": [{}]}, "mark": {"type": "text"}, "encoding": {"x": {"datum": 4.91, "type": "quantitative"}, "y": {"datum": 9.98, "type": "quantitative"}, "text": {"value": "b = (0 ± 3) mm⁻¹"}}},
                {"data": {"values": [{}]}, "mark": {"type": "text"}, "encoding": {"x": {"datum": 9.18, "type": "quantitative"}, "y": {"datum": 6.25, "type": "quantitative"}, "text": {"value": "r = 0.80 (p = 2.6 x 10⁻⁵)"}}},
                {"data": {"values": [{}]}, "mark": {"type": "text"}, "encoding": {"x": {"datum": 9.18, "type": "quantitative"}, "y": {"datum": 5.63, "type": "quantitative"}, "text": {"value": "r"}}},
                {"data": {"values": [{}]}, "mark": {"type": "text", "fontSize": 11, "dx": 6, "dy": 4}, "encoding": {"x": {"datum": 9.18, "type": "quantitative"}, "y": {"datum": 5.63, "type": "quantitative"}, "text": {"value": "c"}}},
                {"data": {"values": [{}]}, "mark": {"type": "text", "dx": 15}, "encoding": {"x": {"datum": 9.18, "type": "quantitative"}, "y": {"datum": 5.63, "type": "quantitative"}, "text": {"value": "= 0.75 [0.41, 0.91]"}}}
              ]
            },
            {
              "data": {"name": "ptsD"},
              "mark": {"type": "point", "opacity": 0},
              "encoding": {
                "x": {"field": "x", "type": "quantitative", "axis": {"orient": "top", "values": [4,4.5,5,5.5,6,6.5,7,7.5,8,8.5,9,9.5,10,10.5,11,11.5,12,12.5], "tickCount": 200, "labels": false, "grid": false, "title": null}},
                "y": {"field": "y", "type": "quantitative", "axis": {"orient": "right", "values": [4,4.2,4.4,4.6,4.8,5,5.2,5.4,5.6,5.8,6,6.2,6.4,6.6,6.8,7,7.2,7.4,7.6,7.8,8,8.2,8.4,8.6,8.8,9,9.2,9.4,9.6,9.8,10,10.2,10.4,10.6,10.8,11,11.2,11.4,11.6,11.8,12,12.2,12.4], "tickCount": 200, "labels": false, "grid": false, "title": null}}
              }
            }
          ]
        }
      ]
    },
    {
      "bounds": "flush",
      "spacing": 92,
      "hconcat": [
        {
          "width": 51, "height": 350, "view": {"stroke": null},
          "data": {"values": [{}]},
          "layer": [
            {"mark": {"type": "text", "angle": 270, "fontSize": 27, "align": "left", "dx": -88, "dy": 3.5}, "encoding": {"text": {"value": "Sample-Specific"}}},
            {"mark": {"type": "text", "angle": 270, "fontSize": 27, "align": "left", "dx": 107, "dy": 3.5}, "encoding": {"text": {"value": "φ"}}},
            {"mark": {"type": "text", "angle": 270, "fontSize": 17, "align": "left", "dx": 125, "dy": 9.5}, "encoding": {"text": {"value": "tb"}}}
          ]
        },
        {
          "width": 472, "height": 302,
          "title": {"text": "(E)", "orient": "bottom", "anchor": "start", "frame": "group", "dx": -61, "dy": -32},
          "resolve": {"axis": {"x": "independent", "y": "independent"}},
          "layer": [
            {
              "layer": [
                {
                  "data": {"name": "bandE"},
                  "mark": {"type": "area", "color": "#D95319", "opacity": 0.24, "clip": true},
                  "encoding": {
                    "x": {"field": "x", "type": "quantitative", "title": "Micro-CT estimated BV/TV (%)", "scale": {"domain": [20, 55], "nice": false, "zero": false},
                      "axis": {"values": [20,21,22,23,24,25,26,27,28,29,30,31,32,33,34,35,36,37,38,39,40,41,42,43,44,45,46,47,48,49,50,51,52,53,54,55], "tickCount": 200, "labelOverlap": false, "labelExpr": "datum.value % 5 === 0 ? '' + datum.value : ''", "gridOpacity": {"condition": {"test": "datum.value % 5 === 0", "value": 1}, "value": 0}}},
                    "y": {"field": "lo", "type": "quantitative", "title": "NMR estimated BV/TV (%)", "scale": {"domain": [20, 55], "nice": false, "zero": false},
                      "axis": {"values": [20,21,22,23,24,25,26,27,28,29,30,31,32,33,34,35,36,37,38,39,40,41,42,43,44,45,46,47,48,49,50,51,52,53,54,55], "tickCount": 200, "labelOverlap": false, "labelExpr": "datum.value % 5 === 0 ? '' + datum.value : ''", "gridOpacity": {"condition": {"test": "datum.value % 5 === 0", "value": 1}, "value": 0}}},
                    "y2": {"field": "hi"}
                  }
                },
                {"data": {"name": "bandE"}, "mark": {"type": "line", "color": "#D95319", "strokeWidth": 1.6}, "encoding": {"x": {"field": "x", "type": "quantitative", "title": "Micro-CT estimated BV/TV (%)"}, "y": {"field": "fit", "type": "quantitative", "title": "NMR estimated BV/TV (%)"}}},
                {"data": {"name": "ptsE"}, "mark": {"type": "errorbar", "ticks": true, "size": 7, "thickness": 1, "opacity": 0.55}, "encoding": {"x": {"field": "x", "type": "quantitative", "title": "Micro-CT estimated BV/TV (%)"}, "xError": {"field": "xe"}, "y": {"field": "y", "type": "quantitative", "title": "NMR estimated BV/TV (%)"}, "color": {"field": "g", "type": "nominal", "legend": null}}},
                {"data": {"name": "ptsE"}, "mark": {"type": "errorbar", "ticks": true, "size": 7, "thickness": 1, "opacity": 0.55}, "encoding": {"x": {"field": "x", "type": "quantitative", "title": "Micro-CT estimated BV/TV (%)"}, "y": {"field": "y", "type": "quantitative", "title": "NMR estimated BV/TV (%)"}, "yError": {"field": "ye"}, "color": {"field": "g", "type": "nominal", "legend": null}}},
                {"data": {"name": "ptsE"}, "mark": {"type": "circle"}, "encoding": {"x": {"field": "x", "type": "quantitative", "title": "Micro-CT estimated BV/TV (%)"}, "y": {"field": "y", "type": "quantitative", "title": "NMR estimated BV/TV (%)"}, "color": {"field": "g", "type": "nominal", "legend": null}}},
                {"data": {"values": [{}]}, "mark": {"type": "text", "fontStyle": "italic", "fontSize": 21}, "encoding": {"x": {"datum": 23.47, "type": "quantitative"}, "y": {"datum": 52.13, "type": "quantitative"}, "text": {"value": "y = ax + b"}}},
                {"data": {"values": [{}]}, "mark": {"type": "text"}, "encoding": {"x": {"datum": 24.2, "type": "quantitative"}, "y": {"datum": 48.75, "type": "quantitative"}, "text": {"value": "a = 0.8 ± 0.2"}}},
                {"data": {"values": [{}]}, "mark": {"type": "text"}, "encoding": {"x": {"datum": 24.2, "type": "quantitative"}, "y": {"datum": 46.38, "type": "quantitative"}, "text": {"value": "b = (7 ± 7) %"}}},
                {"data": {"values": [{}]}, "mark": {"type": "text"}, "encoding": {"x": {"datum": 40.17, "type": "quantitative"}, "y": {"datum": 28.95, "type": "quantitative"}, "text": {"value": "r = 0.90 (p = 5.7 x 10⁻⁸)"}}},
                {"data": {"values": [{}]}, "mark": {"type": "text"}, "encoding": {"x": {"datum": 40.17, "type": "quantitative"}, "y": {"datum": 26.53, "type": "quantitative"}, "text": {"value": "r"}}},
                {"data": {"values": [{}]}, "mark": {"type": "text", "fontSize": 11, "dx": 6, "dy": 4}, "encoding": {"x": {"datum": 40.17, "type": "quantitative"}, "y": {"datum": 26.53, "type": "quantitative"}, "text": {"value": "c"}}},
                {"data": {"values": [{}]}, "mark": {"type": "text", "dx": 15}, "encoding": {"x": {"datum": 40.17, "type": "quantitative"}, "y": {"datum": 26.53, "type": "quantitative"}, "text": {"value": "= 0.88 [0.65, 0.96]"}}}
              ]
            },
            {
              "data": {"name": "ptsE"},
              "mark": {"type": "point", "opacity": 0},
              "encoding": {
                "x": {"field": "x", "type": "quantitative", "axis": {"orient": "top", "values": [20,21,22,23,24,25,26,27,28,29,30,31,32,33,34,35,36,37,38,39,40,41,42,43,44,45,46,47,48,49,50,51,52,53,54,55], "tickCount": 200, "labels": false, "grid": false, "title": null}},
                "y": {"field": "y", "type": "quantitative", "axis": {"orient": "right", "values": [20,21,22,23,24,25,26,27,28,29,30,31,32,33,34,35,36,37,38,39,40,41,42,43,44,45,46,47,48,49,50,51,52,53,54,55], "tickCount": 200, "labels": false, "grid": false, "title": null}}
              }
            }
          ]
        },
        {
          "width": 471, "height": 302,
          "title": {"text": "(F)", "orient": "bottom", "anchor": "start", "frame": "group", "dx": -40, "dy": -32},
          "resolve": {"axis": {"x": "independent", "y": "independent"}},
          "layer": [
            {
              "layer": [
                {
                  "data": {"name": "bandF"},
                  "mark": {"type": "area", "color": "#D95319", "opacity": 0.24, "clip": true},
                  "encoding": {
                    "x": {"field": "x", "type": "quantitative", "title": "Micro-CT estimated BS/TV (mm⁻¹)", "scale": {"domain": [5, 13], "nice": false, "zero": false},
                      "axis": {"values": [5,5.2,5.4,5.6,5.8,6,6.2,6.4,6.6,6.8,7,7.2,7.4,7.6,7.8,8,8.2,8.4,8.6,8.8,9,9.2,9.4,9.6,9.8,10,10.2,10.4,10.6,10.8,11,11.2,11.4,11.6,11.8,12,12.2,12.4,12.6,12.8,13], "tickCount": 200, "labelOverlap": false, "labelExpr": "datum.value % 1 === 0 ? '' + datum.value : ''", "gridOpacity": {"condition": {"test": "datum.value % 1 === 0", "value": 1}, "value": 0}}},
                    "y": {"field": "lo", "type": "quantitative", "title": "NMR estimated BS/TV (mm⁻¹)", "scale": {"domain": [5, 13], "nice": false, "zero": false},
                      "axis": {"values": [5,5.2,5.4,5.6,5.8,6,6.2,6.4,6.6,6.8,7,7.2,7.4,7.6,7.8,8,8.2,8.4,8.6,8.8,9,9.2,9.4,9.6,9.8,10,10.2,10.4,10.6,10.8,11,11.2,11.4,11.6,11.8,12,12.2,12.4,12.6,12.8,13], "tickCount": 200, "labelOverlap": false, "labelExpr": "datum.value % 1 === 0 ? '' + datum.value : ''", "gridOpacity": {"condition": {"test": "datum.value % 1 === 0", "value": 1}, "value": 0}}},
                    "y2": {"field": "hi"}
                  }
                },
                {"data": {"name": "bandF"}, "mark": {"type": "line", "color": "#D95319", "strokeWidth": 1.6}, "encoding": {"x": {"field": "x", "type": "quantitative", "title": "Micro-CT estimated BS/TV (mm⁻¹)"}, "y": {"field": "fit", "type": "quantitative", "title": "NMR estimated BS/TV (mm⁻¹)"}}},
                {"data": {"name": "ptsF"}, "mark": {"type": "errorbar", "ticks": true, "size": 7, "thickness": 1, "opacity": 0.55}, "encoding": {"x": {"field": "x", "type": "quantitative", "title": "Micro-CT estimated BS/TV (mm⁻¹)"}, "xError": {"field": "xe"}, "y": {"field": "y", "type": "quantitative", "title": "NMR estimated BS/TV (mm⁻¹)"}, "color": {"field": "g", "type": "nominal", "legend": null}}},
                {"data": {"name": "ptsF"}, "mark": {"type": "errorbar", "ticks": true, "size": 7, "thickness": 1, "opacity": 0.55}, "encoding": {"x": {"field": "x", "type": "quantitative", "title": "Micro-CT estimated BS/TV (mm⁻¹)"}, "y": {"field": "y", "type": "quantitative", "title": "NMR estimated BS/TV (mm⁻¹)"}, "yError": {"field": "ye"}, "color": {"field": "g", "type": "nominal", "legend": null}}},
                {"data": {"name": "ptsF"}, "mark": {"type": "circle"}, "encoding": {"x": {"field": "x", "type": "quantitative", "title": "Micro-CT estimated BS/TV (mm⁻¹)"}, "y": {"field": "y", "type": "quantitative", "title": "NMR estimated BS/TV (mm⁻¹)"}, "color": {"field": "g", "type": "nominal", "legend": null}}},
                {"data": {"values": [{}]}, "mark": {"type": "text", "fontStyle": "italic", "fontSize": 21}, "encoding": {"x": {"datum": 5.87, "type": "quantitative"}, "y": {"datum": 12.38, "type": "quantitative"}, "text": {"value": "y = ax + b"}}},
                {"data": {"values": [{}]}, "mark": {"type": "text"}, "encoding": {"x": {"datum": 6.03, "type": "quantitative"}, "y": {"datum": 11.62, "type": "quantitative"}, "text": {"value": "a = 0.7 ± 0.2"}}},
                {"data": {"values": [{}]}, "mark": {"type": "text"}, "encoding": {"x": {"datum": 6.03, "type": "quantitative"}, "y": {"datum": 11.04, "type": "quantitative"}, "text": {"value": "b = (3 ± 2) mm⁻¹"}}},
                {"data": {"values": [{}]}, "mark": {"type": "text"}, "encoding": {"x": {"datum": 9.99, "type": "quantitative"}, "y": {"datum": 6.78, "type": "quantitative"}, "text": {"value": "r = 0.86 (p = 1.2 x 10⁻⁶)"}}},
                {"data": {"values": [{}]}, "mark": {"type": "text"}, "encoding": {"x": {"datum": 9.99, "type": "quantitative"}, "y": {"datum": 6.23, "type": "quantitative"}, "text": {"value": "r"}}},
                {"data": {"values": [{}]}, "mark": {"type": "text", "fontSize": 11, "dx": 6, "dy": 4}, "encoding": {"x": {"datum": 9.99, "type": "quantitative"}, "y": {"datum": 6.23, "type": "quantitative"}, "text": {"value": "c"}}},
                {"data": {"values": [{}]}, "mark": {"type": "text", "dx": 15}, "encoding": {"x": {"datum": 9.99, "type": "quantitative"}, "y": {"datum": 6.23, "type": "quantitative"}, "text": {"value": "= 0.81 [0.51, 0.93]"}}}
              ]
            },
            {
              "data": {"name": "ptsF"},
              "mark": {"type": "point", "opacity": 0},
              "encoding": {
                "x": {"field": "x", "type": "quantitative", "axis": {"orient": "top", "values": [5,5.2,5.4,5.6,5.8,6,6.2,6.4,6.6,6.8,7,7.2,7.4,7.6,7.8,8,8.2,8.4,8.6,8.8,9,9.2,9.4,9.6,9.8,10,10.2,10.4,10.6,10.8,11,11.2,11.4,11.6,11.8,12,12.2,12.4,12.6,12.8,13], "tickCount": 200, "labels": false, "grid": false, "title": null}},
                "y": {"field": "y", "type": "quantitative", "axis": {"orient": "right", "values": [5,5.2,5.4,5.6,5.8,6,6.2,6.4,6.6,6.8,7,7.2,7.4,7.6,7.8,8,8.2,8.4,8.6,8.8,9,9.2,9.4,9.6,9.8,10,10.2,10.4,10.6,10.8,11,11.2,11.4,11.6,11.8,12,12.2,12.4,12.6,12.8,13], "tickCount": 200, "labels": false, "grid": false, "title": null}}
              }
            }
          ]
        }
      ]
    }
  ]
}
